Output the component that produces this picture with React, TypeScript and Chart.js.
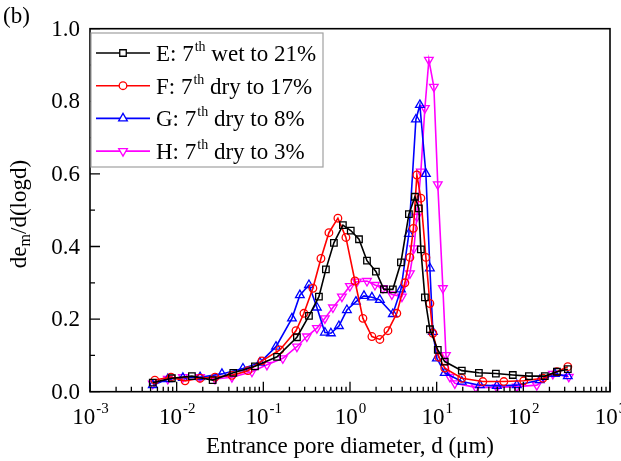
import React, { useEffect, useRef } from "react";
import { Chart, registerables } from "chart.js";
import { drawPoint } from "chart.js/helpers";

Chart.register(...registerables);

const FONT = '"Liberation Serif", "Times New Roman", serif';

// Series E: 7th wet to 21%
const eDiameter = [0.0053, 0.0088, 0.015, 0.026, 0.045, 0.08, 0.144, 0.244, 0.336, 0.438, 0.527, 0.652, 0.828, 1.02, 1.27, 1.57, 1.99, 2.46, 3.12, 3.87, 4.78, 5.61, 6.23, 6.57, 7.31, 8.35, 10.3, 12.4, 19.5, 30.7, 48.2, 75.6, 116, 177, 244, 326];
const eValue = [0.025, 0.037, 0.043, 0.032, 0.052, 0.07, 0.096, 0.15, 0.209, 0.262, 0.337, 0.41, 0.459, 0.444, 0.42, 0.361, 0.331, 0.282, 0.282, 0.356, 0.489, 0.537, 0.505, 0.392, 0.26, 0.172, 0.115, 0.083, 0.058, 0.052, 0.05, 0.046, 0.043, 0.043, 0.055, 0.062];

// Series F: 7th dry to 17%
const fDiameter = [0.0056, 0.0086, 0.0125, 0.0186, 0.0277, 0.0434, 0.0664, 0.0964, 0.155, 0.238, 0.294, 0.373, 0.462, 0.571, 0.725, 0.897, 1.14, 1.41, 1.79, 2.21, 2.74, 3.47, 4.3, 4.91, 5.39, 5.91, 6.57, 7.51, 8.35, 9.04, 10.6, 12.4, 19.5, 34.1, 59.6, 101, 168, 244, 326];
const fValue = [0.032, 0.04, 0.03, 0.037, 0.04, 0.045, 0.058, 0.085, 0.115, 0.168, 0.216, 0.285, 0.367, 0.438, 0.478, 0.425, 0.305, 0.202, 0.152, 0.144, 0.168, 0.216, 0.3, 0.37, 0.45, 0.597, 0.533, 0.37, 0.243, 0.161, 0.095, 0.065, 0.037, 0.028, 0.028, 0.03, 0.037, 0.055, 0.069];

// Series G: 7th dry to 8%
const gDiameter = [0.0053, 0.0079, 0.0118, 0.0186, 0.0333, 0.0582, 0.0914, 0.14, 0.214, 0.264, 0.336, 0.415, 0.513, 0.602, 0.745, 0.921, 1.17, 1.45, 1.79, 2.21, 3.12, 3.87, 4.78, 5.76, 6.4, 7.51, 8.35, 9.04, 10.05, 12.4, 19.5, 31.5, 49.5, 84.1, 155, 231, 326];
const gValue = [0.018, 0.035, 0.038, 0.04, 0.049, 0.064, 0.08, 0.124, 0.202, 0.266, 0.294, 0.232, 0.163, 0.161, 0.181, 0.225, 0.248, 0.264, 0.26, 0.253, 0.214, 0.282, 0.435, 0.75, 0.79, 0.6, 0.34, 0.165, 0.092, 0.052, 0.028, 0.018, 0.016, 0.018, 0.032, 0.049, 0.043];

// Series H: 7th dry to 3%
const hDiameter = [0.0053, 0.0079, 0.0118, 0.0186, 0.0277, 0.0434, 0.0739, 0.11, 0.168, 0.244, 0.318, 0.415, 0.513, 0.635, 0.806, 0.997, 1.2, 1.57, 1.94, 2.4, 3.04, 3.97, 4.91, 5.46, 5.91, 6.57, 7.31, 8.13, 9.28, 10.3, 11.8, 12.8, 14.2, 16.2, 28.3, 49.5, 84.1, 143, 219, 335];
const hValue = [0.022, 0.035, 0.04, 0.04, 0.035, 0.04, 0.055, 0.074, 0.092, 0.124, 0.152, 0.175, 0.202, 0.232, 0.262, 0.291, 0.303, 0.305, 0.294, 0.285, 0.268, 0.262, 0.326, 0.395, 0.482, 0.606, 0.781, 0.914, 0.84, 0.571, 0.285, 0.101, 0.041, 0.023, 0.012, 0.012, 0.014, 0.018, 0.049, 0.041];

const legendPrefix = ["E: 7", "F: 7", "G: 7", "H: 7"];
const legendSup = ["th", "th", "th", "th"];
const legendSuffix = [" wet to 21%", " dry to 17%", " dry to 8%", " dry to 3%"];
const seriesColors = ["#000000", "#ff0000", "#0000ff", "#ff00ff"];

const xTickExponents = [-3, -2, -1, 0, 1, 2, 3];
const yTickValues = [0, 0.2, 0.4, 0.6, 0.8, 1.0];
const yMinorValues = [0.1, 0.3, 0.5, 0.7, 0.9];
const xTitle = "Entrance pore diameter, d (\u03bcm)";
const panelLabel = "(b)";

function pts(xs: number[], ys: number[]) {
  return xs.map((x, i) => ({ x, y: ys[i] }));
}

const axesPlugin = {
  id: "customAxes",
  afterDraw(chart: any) {
    const { ctx, chartArea: a, scales } = chart;
    const xs = scales.x;
    const ys = scales.y;
    ctx.save();
    ctx.strokeStyle = "#000";
    ctx.fillStyle = "#000";
    ctx.lineWidth = 1.6;
    ctx.strokeRect(a.left, a.top, a.right - a.left, a.bottom - a.top);

    // x ticks
    ctx.lineWidth = 1.3;
    ctx.beginPath();
    xTickExponents.forEach((e) => {
      const px = xs.getPixelForValue(Math.pow(10, e));
      ctx.moveTo(px, a.bottom);
      ctx.lineTo(px, a.bottom - 10);
      if (e < 3) {
        for (let m = 2; m <= 9; m++) {
          const mx = xs.getPixelForValue(m * Math.pow(10, e));
          ctx.moveTo(mx, a.bottom);
          ctx.lineTo(mx, a.bottom - 5);
        }
      }
    });
    // y ticks
    yTickValues.forEach((v) => {
      const py = ys.getPixelForValue(v);
      ctx.moveTo(a.left, py);
      ctx.lineTo(a.left + 10, py);
    });
    yMinorValues.forEach((v) => {
      const py = ys.getPixelForValue(v);
      ctx.moveTo(a.left, py);
      ctx.lineTo(a.left + 5, py);
    });
    ctx.stroke();

    // y labels
    ctx.font = `23px ${FONT}`;
    ctx.textAlign = "right";
    ctx.textBaseline = "middle";
    yTickValues.forEach((v) => {
      ctx.fillText(v.toFixed(1), a.left - 10, ys.getPixelForValue(v) + 1);
    });

    // x labels
    ctx.textAlign = "left";
    ctx.textBaseline = "alphabetic";
    xTickExponents.forEach((e) => {
      const px = xs.getPixelForValue(Math.pow(10, e));
      ctx.font = `23px ${FONT}`;
      const base = "10";
      const wb = ctx.measureText(base).width;
      ctx.font = `15px ${FONT}`;
      const sup = String(e).replace("-", "-");
      const ws = ctx.measureText(sup).width;
      const start = px - (wb + ws) / 2;
      ctx.font = `23px ${FONT}`;
      ctx.fillText(base, start, 424);
      ctx.font = `15px ${FONT}`;
      ctx.fillText(sup, start + wb + 1, 413);
    });

    // x title
    ctx.font = `23px ${FONT}`;
    ctx.textAlign = "center";
    ctx.fillText(xTitle, (a.left + a.right) / 2, 453);

    // y title
    ctx.save();
    ctx.translate(26, 214);
    ctx.rotate(-Math.PI / 2);
    ctx.textAlign = "left";
    ctx.font = `23px ${FONT}`;
    const p1 = "de";
    const p3 = "/d(logd)";
    const w1 = ctx.measureText(p1).width;
    const w3 = ctx.measureText(p3).width;
    ctx.font = `16px ${FONT}`;
    const w2 = ctx.measureText("m").width;
    const tot = w1 + w2 + w3;
    let x0 = -tot / 2;
    ctx.font = `23px ${FONT}`;
    ctx.fillText(p1, x0, 0);
    ctx.font = `16px ${FONT}`;
    ctx.fillText("m", x0 + w1, 4);
    ctx.font = `23px ${FONT}`;
    ctx.fillText(p3, x0 + w1 + w2, 0);
    ctx.restore();

    // panel label
    ctx.textAlign = "left";
    ctx.font = `23px ${FONT}`;
    ctx.fillText(panelLabel, 3, 23);

    // legend
    const lx = a.left;
    const ly = 33;
    ctx.fillStyle = "#fff";
    ctx.fillRect(lx + 1, ly, 232, 134);
    ctx.strokeStyle = "#a0a0a0";
    ctx.lineWidth = 1.2;
    ctx.strokeRect(lx + 1, ly, 232, 134);
    chart.data.datasets.forEach((ds: any, i: number) => {
      const cy = 53 + i * 32.7;
      ctx.strokeStyle = ds.borderColor;
      ctx.lineWidth = 1.6;
      ctx.beginPath();
      ctx.moveTo(96, cy);
      ctx.lineTo(150, cy);
      ctx.stroke();
      ctx.fillStyle = "#fff";
      ctx.strokeStyle = ds.borderColor;
      ctx.lineWidth = 1.3;
      drawPoint(ctx, {
        pointStyle: ds.pointStyle,
        rotation: ds.pointRotation || 0,
        radius: ds.pointRadius,
        borderWidth: 1.3,
      } as any, 123, cy);
      ctx.fillStyle = "#000";
      ctx.font = `23px ${FONT}`;
      const tx = 156;
      const by = cy + 8;
      ctx.fillText(legendPrefix[i], tx, by);
      const w1l = ctx.measureText(legendPrefix[i]).width;
      ctx.font = `14px ${FONT}`;
      ctx.fillText(legendSup[i], tx + w1l + 1, by - 10);
      const w2l = ctx.measureText(legendSup[i]).width;
      ctx.font = `23px ${FONT}`;
      ctx.fillText(legendSuffix[i], tx + w1l + w2l + 1, by);
    });
    ctx.restore();
  },
};

export default function App() {
  const canvasRef = useRef<HTMLCanvasElement | null>(null);

  useEffect(() => {
    document.body.style.margin = "0";
    const canvas = canvasRef.current;
    if (!canvas) return;
    const mk = (label: string, xs: number[], ys: number[], color: string, style: string, radius: number, rotation = 0) => ({
      label,
      data: pts(xs, ys),
      borderColor: color,
      backgroundColor: "rgba(255,255,255,0)",
      pointBackgroundColor: "rgba(255,255,255,0)",
      pointBorderColor: color,
      pointBorderWidth: 1.3,
      borderWidth: 1.6,
      pointStyle: style,
      pointRadius: radius,
      pointRotation: rotation,
      tension: 0,
      fill: false,
    });
    const chart = new Chart(canvas, {
      type: "line",
      data: {
        datasets: [
          mk("E", eDiameter, eValue, seriesColors[0], "rect", 4.6),
          mk("F", fDiameter, fValue, seriesColors[1], "circle", 3.8),
          mk("G", gDiameter, gValue, seriesColors[2], "triangle", 5),
          mk("H", hDiameter, hValue, seriesColors[3], "triangle", 5, 180),
        ],
      },
      options: {
        animation: false,
        responsive: false,
        devicePixelRatio: 1,
        layout: { padding: { left: 90, right: 11, top: 28.7, bottom: 69.3 } },
        plugins: { legend: { display: false }, tooltip: { enabled: false } },
        scales: {
          x: { type: "logarithmic", min: 0.001, max: 1000, display: false },
          y: { type: "linear", min: 0, max: 1, display: false },
        },
      } as any,
      plugins: [axesPlugin],
    });
    return () => chart.destroy();
  }, []);

  return (
    <div style={{ width: 621, height: 461, background: "#fff" }}>
      <canvas ref={canvasRef} width={621} height={461} style={{ display: "block" }} />
    </div>
  );
}
